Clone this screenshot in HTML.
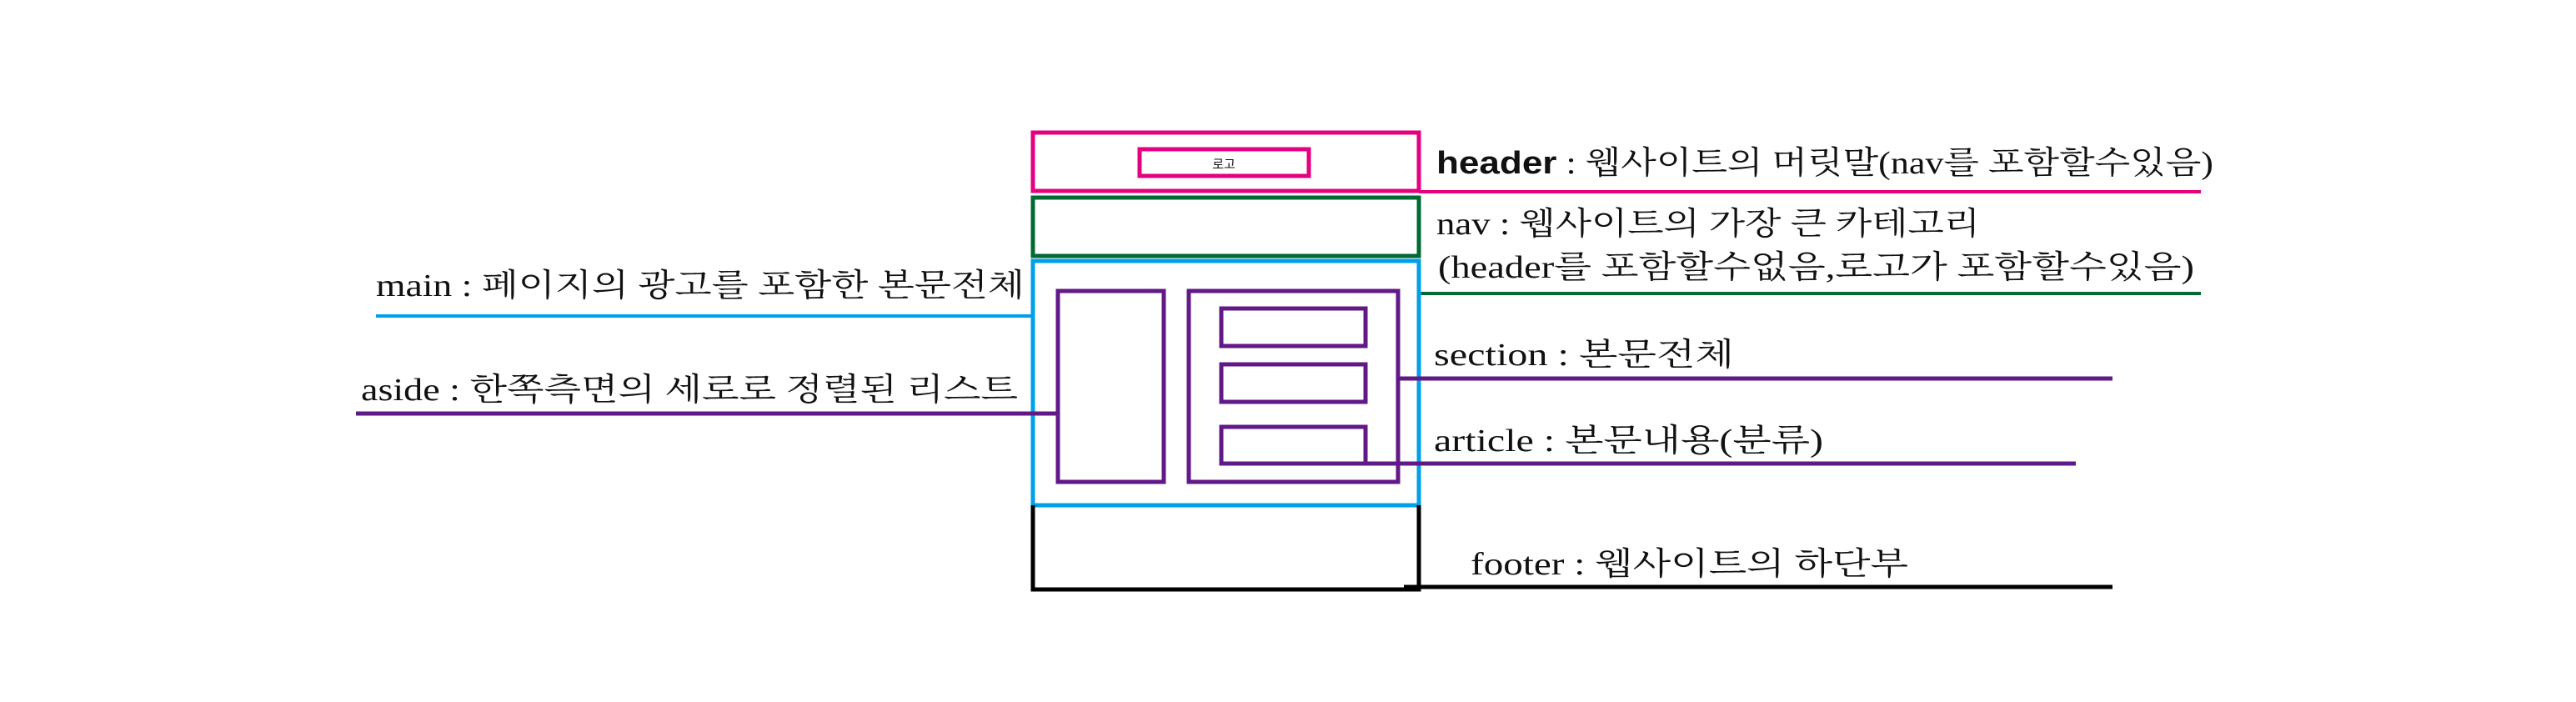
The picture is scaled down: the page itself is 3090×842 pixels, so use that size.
<!DOCTYPE html>
<html><head><meta charset="utf-8"><style>
html,body{margin:0;padding:0;background:#fff;width:3090px;height:842px;overflow:hidden}
svg{display:block}
text{font-family:"Liberation Serif","Noto Serif CJK SC","Noto Sans CJK KR",serif;font-size:38px;fill:#111}
</style></head><body>
<svg width="3090" height="842" viewBox="0 0 3090 842" xmlns="http://www.w3.org/2000/svg">
<g fill="none" stroke-width="5">
<rect x="1239" y="159" width="463" height="70" stroke="#e4007f"/>
<rect x="1367" y="179" width="203" height="32" stroke="#e4007f"/>
<line x1="1702" y1="230" x2="2640" y2="230" stroke="#e4007f" stroke-width="4"/>
<rect x="1239" y="237" width="463" height="70" stroke="#006934"/>
<line x1="1702" y1="352" x2="2640" y2="352" stroke="#006934" stroke-width="4"/>
<rect x="1239" y="313" width="463" height="293" stroke="#00a0e9"/>
<line x1="451" y1="379" x2="1239" y2="379" stroke="#00a0e9" stroke-width="4"/>
<path d="M1239 606 V707 H1702 V606" stroke="#000"/>
<line x1="1684" y1="704" x2="2534" y2="704" stroke="#000" stroke-width="5"/>
<rect x="1269" y="349" width="127" height="229" stroke="#601986"/>
<rect x="1426" y="349" width="251" height="229" stroke="#601986"/>
<rect x="1465" y="370" width="173" height="45" stroke="#601986"/>
<rect x="1465" y="437" width="173" height="45" stroke="#601986"/>
<rect x="1465" y="512" width="173" height="44" stroke="#601986"/>
<line x1="427" y1="496" x2="1269" y2="496" stroke="#601986" stroke-width="5"/>
<line x1="1677" y1="454" x2="2534" y2="454" stroke="#601986" stroke-width="5"/>
<line x1="1638" y1="556" x2="2490" y2="556" stroke="#601986" stroke-width="5"/>
</g>
<text x="1468" y="202" text-anchor="middle" style="font-size:15px;font-family:'Liberation Sans','Noto Sans CJK KR',sans-serif">로고</text>
<text x="1723" y="208" textLength="932" lengthAdjust="spacingAndGlyphs"><tspan style="font-family:'Liberation Sans','Noto Sans CJK KR',sans-serif;font-weight:bold">header</tspan> : 웹사이트의 머릿말(nav를 포함할수있음)</text>
<text x="1723" y="281" textLength="652" lengthAdjust="spacingAndGlyphs">nav : 웹사이트의 가장 큰 카테고리</text>
<text x="1725" y="333" textLength="907" lengthAdjust="spacingAndGlyphs">(header를 포함할수없음,로고가 포함할수있음)</text>
<text x="451" y="355" textLength="778" lengthAdjust="spacingAndGlyphs">main : 페이지의 광고를 포함한 본문전체</text>
<text x="433" y="480" textLength="788" lengthAdjust="spacingAndGlyphs">aside : 한쪽측면의 세로로 정렬된 리스트</text>
<text x="1720" y="438" textLength="360" lengthAdjust="spacingAndGlyphs">section : 본문전체</text>
<text x="1720" y="541" textLength="467" lengthAdjust="spacingAndGlyphs">article : 본문내용(분류)</text>
<text x="1764" y="689" textLength="525" lengthAdjust="spacingAndGlyphs">footer : 웹사이트의 하단부</text>
</svg>
</body></html>
